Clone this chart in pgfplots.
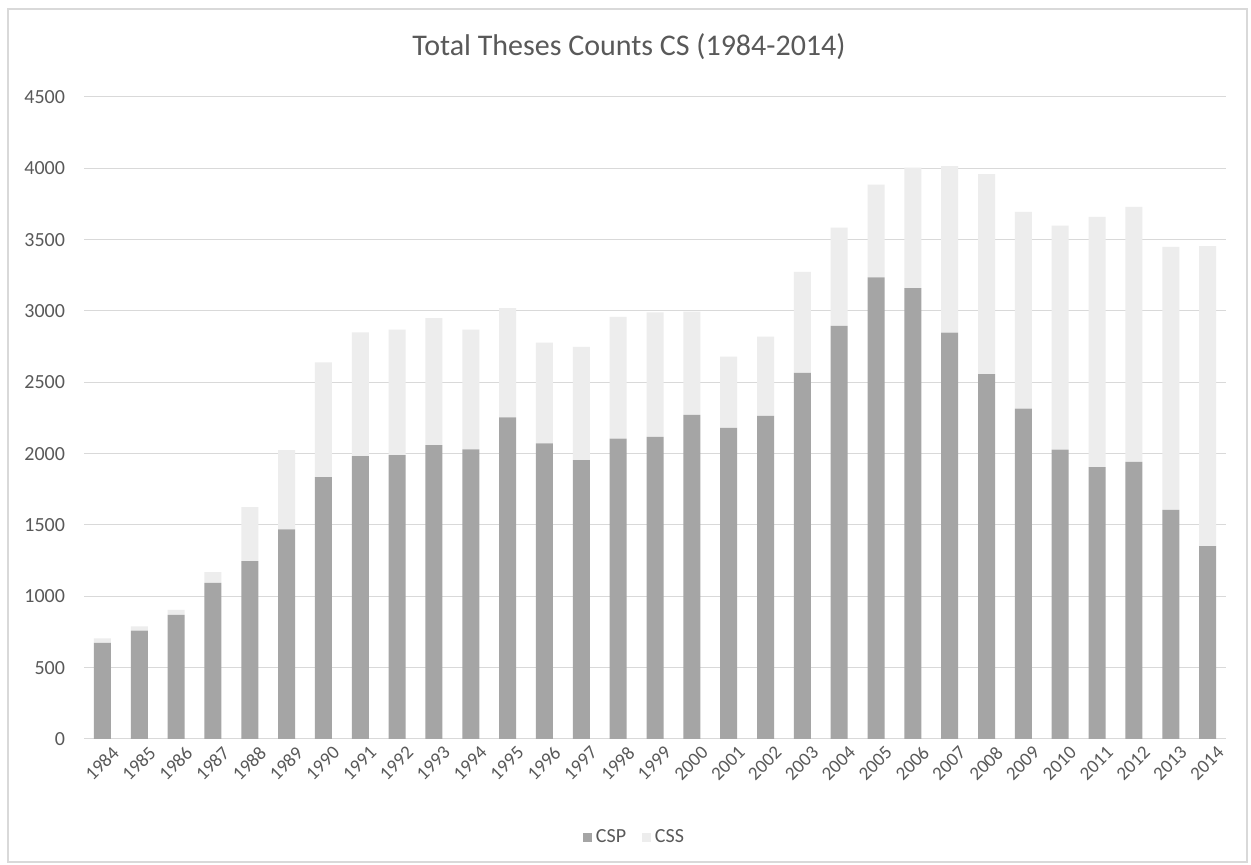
\documentclass[border=0pt]{standalone}
\usepackage{pgfplots}
\pgfplotsset{compat=1.18}
\usepackage{pgfplotstable}
\usepackage{fontspec}
\setmainfont{Carlito}
\definecolor{txt}{HTML}{595959}
\definecolor{gridc}{HTML}{D9D9D9}
\definecolor{csp}{HTML}{A5A5A5}
\definecolor{css}{HTML}{EDEDED}
\pgfplotstableread{
x year CSP CSS
0 1984 673 32
1 1985 760 30
2 1986 870 35
3 1987 1095 75
4 1988 1247 378
5 1989 1470 555
6 1990 1836 804
7 1991 1983 867
8 1992 1990 880
9 1993 2060 890
10 1994 2030 840
11 1995 2255 765
12 1996 2072 706
13 1997 1955 793
14 1998 2105 853
15 1999 2117 873
16 2000 2272 723
17 2001 2180 500
18 2002 2265 555
19 2003 2567 708
20 2004 2895 690
21 2005 3235 650
22 2006 3160 845
23 2007 2848 1167
24 2008 2558 1402
25 2009 2315 1380
26 2010 2028 1570
27 2011 1906 1754
28 2012 1943 1787
29 2013 1606 1844
30 2014 1352 2103
}\datatable
\begin{document}
\begin{tikzpicture}
\useasboundingbox (0,0) rectangle (625.5pt,432.5pt);
\fill[white] (0,0) rectangle (625.5pt,432.5pt);
\draw[gridc, line width=0.75pt] (4pt,1.5pt) rectangle (623.5pt,428pt);
\node[text=txt, font=\fontsize{15}{18}\selectfont] at (314.5pt,409pt) {Total Theses Counts CS (1984-2014)};
\begin{axis}[
  at={(42pt,63pt)}, anchor=south west,
  scale only axis, width=571pt, height=321pt,
  ybar stacked, bar width=8.5pt,
  xmin=-0.5, xmax=30.5, ymin=0, ymax=4500,
  ytick={0,500,...,4500},
  xtick=data,
  xticklabels={1984,1985,1986,1987,1988,1989,1990,1991,1992,1993,1994,1995,1996,1997,1998,1999,2000,2001,2002,2003,2004,2005,2006,2007,2008,2009,2010,2011,2012,2013,2014},
  ymajorgrids, grid style={gridc, line width=0.5pt},
  axis x line*=bottom, axis y line*=left,
  y axis line style={draw=none},
  x axis line style={draw=gridc, line width=0.5pt},
  major tick length=0pt,
  tick label style={text=txt, font=\fontsize{10}{12}\selectfont},
  /pgf/number format/assume math mode=true,
  yticklabel style={xshift=-6pt},
  xticklabel style={rotate=45, anchor=north east, inner sep=1pt, yshift=-4pt, xshift=2pt, font=\fontsize{9.5}{11}\selectfont},
  scaled y ticks=false,
  yticklabel={\pgfmathprintnumber[fixed,1000 sep={}]{\tick}},
  legend columns=2,
  legend style={at={(0.483,-0.153)}, anchor=center, draw=none, fill=none,
    font=\fontsize{10}{12}\selectfont, text=txt,
    /tikz/every even column/.append style={column sep=6pt}},
  legend image code/.code={\fill[#1] (0pt,-2.2pt) rectangle (4.4pt,2.2pt);},
]
\addplot[fill=csp, draw=none] table[x=x, y=CSP] {\datatable};
\addplot[fill=css, draw=none] table[x=x, y=CSS] {\datatable};
\legend{CSP, CSS}
\end{axis}
\end{tikzpicture}
\end{document}
